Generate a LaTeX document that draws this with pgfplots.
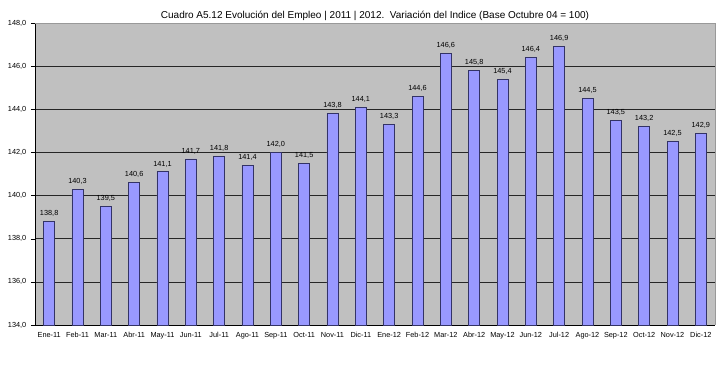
\documentclass[border=0pt]{standalone}
\usepackage{pgfplots}
\pgfplotsset{compat=1.18}
\usepackage{fontspec}
\setmainfont{Liberation Sans}
\definecolor{barfill}{HTML}{9999FF}
\definecolor{baredge}{HTML}{333366}
\definecolor{plotbg}{HTML}{C0C0C0}
\begin{document}
\begin{tikzpicture}
\begin{axis}[
  scale only axis,
  width=510pt, height=226.5pt,
  xmin=-0.5, xmax=23.5,
  ymin=134, ymax=148,
  axis background/.style={fill=plotbg},
  axis x line*=bottom, axis y line*=left,
  axis line style={black, line width=0.5pt},
  ytick={134,136,...,148},
  ymajorgrids, grid style={black!85, line width=0.4pt},
  y tick label style={font=\fontsize{5.5}{6}\selectfont, /pgf/number format/.cd, fixed, fixed zerofill, precision=1, use comma},
  /pgf/number format/assume math mode=true,
  ytick style={black}, tick align=outside, major tick length=3pt,
  xtick={0,...,23},
  xticklabels={Ene-11,Feb-11,Mar-11,Abr-11,May-11,Jun-11,Jul-11,Ago-11,Sep-11,Oct-11,Nov-11,Dic-11,Ene-12,Feb-12,Mar-12,Abr-12,May-12,Jun-12,Jul-12,Ago-12,Sep-12,Oct-12,Nov-12,Dic-12},
  x tick label style={font=\fontsize{5.5}{6}\selectfont, yshift=1pt},
  xtick style={draw=none},
  minor xtick={-0.5,0.5,...,23.5},
  minor x tick style={black},
  minor tick length=3pt,
  title={Cuadro A5.12 Evolución del Empleo | 2011 | 2012.\ \ Variación del Indice (Base Octubre 04 = 100)},
  title style={font=\fontsize{7.5}{9}\selectfont, yshift=-7.5pt},
  clip=false,
]
\addplot[ybar, bar width=8.25pt, fill=barfill, draw=baredge, line width=0.6pt,
  nodes near coords,
  nodes near coords style={font=\fontsize{5.5}{6}\selectfont, black, /pgf/number format/.cd, fixed, fixed zerofill, precision=1, use comma, assume math mode=true},
] coordinates {
(0,138.8) (1,140.3) (2,139.5) (3,140.6) (4,141.1) (5,141.7) (6,141.8) (7,141.4)
(8,142.0) (9,141.5) (10,143.8) (11,144.1) (12,143.3) (13,144.6) (14,146.6) (15,145.8)
(16,145.4) (17,146.4) (18,146.9) (19,144.5) (20,143.5) (21,143.2) (22,142.5) (23,142.9)
};
\draw[gray!80, line width=0.6pt] (rel axis cs:0,1) -- (rel axis cs:1,1) -- (rel axis cs:1,0);
\coordinate (ll) at (rel axis cs:0,0);
\coordinate (ur) at (rel axis cs:1,1);
\end{axis}
\path ([xshift=-26.25pt,yshift=-35.25pt]ll) rectangle ([xshift=3pt,yshift=17.25pt]ur);
\end{tikzpicture}
\end{document}
